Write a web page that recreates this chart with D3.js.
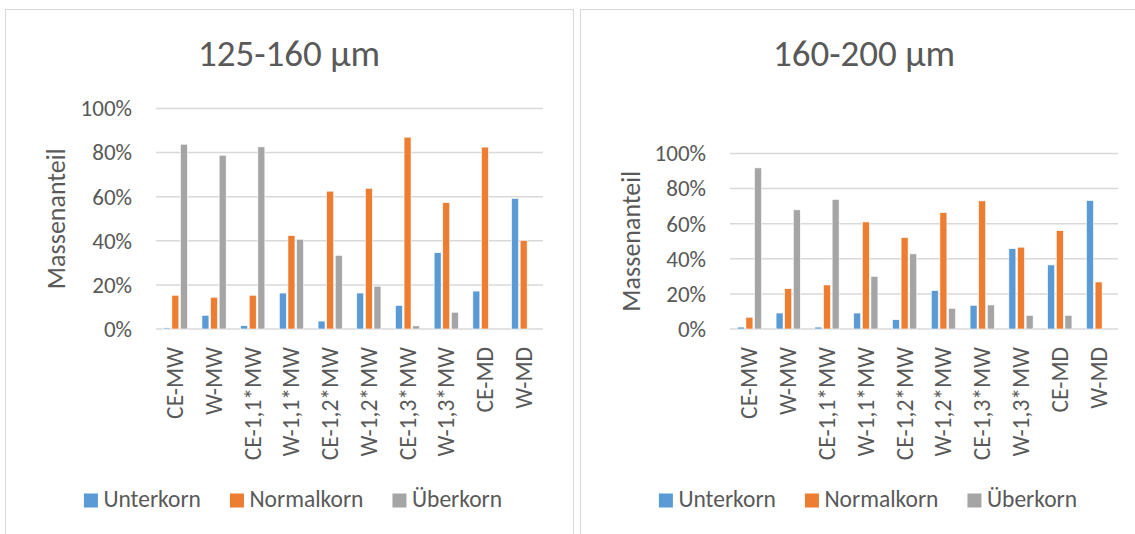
<!DOCTYPE html>
<html>
<head>
<meta charset="utf-8">
<script src="https://cdn.jsdelivr.net/npm/d3@7"></script>
<style>
  html, body { margin: 0; padding: 0; background: #fff; }
  svg { display: block; }
  text { font-family: Carlito, Calibri, "Open Sans", sans-serif; fill: #595959; }
</style>
</head>
<body>
<svg id="chart" width="1135" height="534"></svg>
<script>
// Sample designations (x axis)
const categories = ["CE-MW", "W-MW", "CE-1,1*MW", "W-1,1*MW", "CE-1,2*MW",
                    "W-1,2*MW", "CE-1,3*MW", "W-1,3*MW", "CE-MD", "W-MD"];
const seriesNames = ["Unterkorn", "Normalkorn", "Überkorn"];
const seriesColors = ["#5B9BD5", "#ED7D31", "#A5A5A5"];

// Fraction 125-160 µm (mass share, 0..1)
const unterkorn125  = [0.005, 0.062, 0.015, 0.163, 0.036, 0.163, 0.107, 0.346, 0.172, 0.592];
const normalkorn125 = [0.153, 0.144, 0.153, 0.424, 0.625, 0.638, 0.870, 0.573, 0.825, 0.402];
const ueberkorn125  = [0.838, 0.788, 0.826, 0.407, 0.334, 0.194, 0.014, 0.076, 0.000, 0.000];

// Fraction 160-200 µm (mass share, 0..1)
const unterkorn160  = [0.011, 0.091, 0.011, 0.091, 0.053, 0.219, 0.135, 0.458, 0.365, 0.732];
const normalkorn160 = [0.067, 0.230, 0.251, 0.610, 0.521, 0.663, 0.730, 0.466, 0.561, 0.268];
const ueberkorn160  = [0.918, 0.679, 0.738, 0.300, 0.428, 0.118, 0.137, 0.078, 0.078, 0.000];

const yTicks = [0, 0.2, 0.4, 0.6, 0.8, 1.0];
const yAxisTitle = "Massenanteil";

const FONT = 'Carlito, Calibri, "Open Sans", sans-serif';
const svg = d3.select("#chart");

function drawPanel(opt) {
  const g = svg.append("g");

  // chart frame
  g.append("rect")
    .attr("x", opt.frame[0] + 0.5).attr("y", 9.5)
    .attr("width", opt.frame[1] - opt.frame[0]).attr("height", 540)
    .attr("fill", "#fff").attr("stroke", "#D9D9D9").attr("stroke-width", 1);

  const panelCenter = (opt.frame[0] + opt.frame[1]) / 2;

  // title
  g.append("text")
    .attr("x", panelCenter).attr("y", 65.5)
    .attr("text-anchor", "middle")
    .style("font-size", "37px")
    .text(opt.title);

  const x0 = d3.scaleBand().domain(categories)
    .range([opt.plot.left, opt.plot.right])
    .paddingInner(0.375).paddingOuter(0.1875);
  const x1 = d3.scaleBand().domain(seriesNames)
    .range([0, x0.bandwidth()]).paddingInner(0.19);
  const y = d3.scaleLinear().domain([0, 1]).range([opt.plot.bottom, opt.plot.top]);

  // horizontal gridlines
  g.append("g").selectAll("line").data(yTicks).join("line")
    .attr("x1", opt.plot.left).attr("x2", opt.plot.right)
    .attr("y1", d => y(d)).attr("y2", d => y(d))
    .attr("stroke", "#D9D9D9").attr("stroke-width", 1.5);

  // y axis labels
  const yAxis = d3.axisLeft(y).tickValues(yTicks).tickFormat(d3.format(".0%"))
    .tickSize(0).tickPadding(0);
  const ya = g.append("g")
    .attr("transform", `translate(${opt.plot.left - 24},0)`)
    .call(yAxis);
  ya.select(".domain").remove();
  ya.selectAll("text")
    .style("font-size", "23px")
    .attr("fill", "#595959")
    .style("font-family", FONT);

  // y axis title
  g.append("text")
    .attr("transform", `translate(${opt.yTitleX},${(opt.plot.top + opt.plot.bottom) / 2}) rotate(-90)`)
    .attr("text-anchor", "middle").attr("dy", "0.35em")
    .style("font-size", "26px")
    .text(yAxisTitle);

  // bars
  const rows = categories.map((c, i) => ({
    cat: c,
    vals: opt.series.map((s, k) => ({ name: seriesNames[k], v: s[i], color: seriesColors[k] }))
  }));
  const grp = g.append("g").selectAll("g").data(rows).join("g")
    .attr("transform", d => `translate(${x0(d.cat)},0)`);
  grp.selectAll("rect").data(d => d.vals.filter(e => e.v > 0)).join("rect")
    .attr("x", d => x1(d.name))
    .attr("width", x1.bandwidth())
    .attr("y", d => y(d.v))
    .attr("height", d => y(0) - y(d.v))
    .attr("fill", d => d.color)
    .attr("stroke", "#fff").attr("stroke-width", 0.6);

  // category labels (rotated)
  const xAxis = d3.axisBottom(x0).tickSize(0).tickPadding(0);
  const xa = g.append("g")
    .attr("transform", `translate(0,${opt.plot.bottom})`)
    .call(xAxis);
  xa.select(".domain").remove();
  xa.selectAll("text")
    .attr("transform", "rotate(-90)")
    .attr("text-anchor", "end")
    .attr("x", -18).attr("y", 0).attr("dy", "0.34em")
    .attr("fill", "#595959")
    .style("font-size", "23.5px")
    .style("font-family", FONT);

  // legend, centered in the panel
  const leg = g.append("g");
  const items = leg.selectAll("g").data(seriesNames).join("g");
  items.append("rect")
    .attr("width", 14).attr("height", 14).attr("y", -13.5)
    .attr("fill", (d, i) => seriesColors[i]);
  items.append("text")
    .attr("x", 19.5).attr("y", 0)
    .style("font-size", "23.5px")
    .text(d => d);
  let cx = 0;
  items.each(function () {
    const w = this.querySelector("text").getComputedTextLength() + 19.5;
    d3.select(this).attr("transform", `translate(${cx},0)`);
    cx += w + 29;
  });
  const total = cx - 29;
  leg.attr("transform", `translate(${panelCenter + 4 - total / 2},507)`);
}

drawPanel({
  title: "125-160 µm",
  frame: [5, 573],
  plot: { left: 156, right: 543, top: 108.5, bottom: 329 },
  yTitleX: 56,
  series: [unterkorn125, normalkorn125, ueberkorn125]
});

drawPanel({
  title: "160-200 µm",
  frame: [580, 1148],
  plot: { left: 730, right: 1118, top: 153.5, bottom: 329 },
  yTitleX: 631,
  series: [unterkorn160, normalkorn160, ueberkorn160]
});
</script>
</body>
</html>
